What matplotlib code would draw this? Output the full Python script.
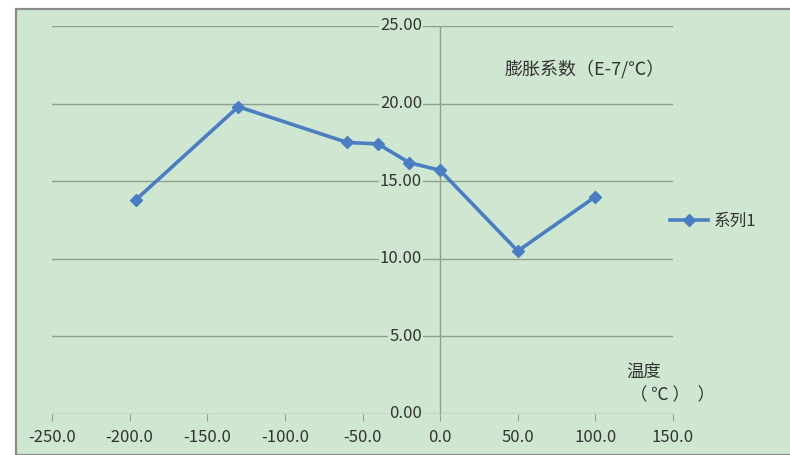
import matplotlib
matplotlib.use("Agg")
import matplotlib.pyplot as plt
from matplotlib.patches import Rectangle
from matplotlib.lines import Line2D

plt.rcParams['font.family'] = ['Noto Sans CJK SC', 'DejaVu Sans']

# Thermal expansion coefficient vs. temperature
temperature = [-196, -130, -60, -40, -20, 0, 50, 100]
expansion = [13.8, 19.8, 17.5, 17.4, 16.2, 15.7, 10.5, 14.0]
series_name = "系列1"
x_ticks = [-250, -200, -150, -100, -50, 0, 50, 100, 150]
y_ticks = [0, 5, 10, 15, 20, 25]

W, H = 790, 455
fig = plt.figure(figsize=(W / 100, H / 100), dpi=100)
fig.patch.set_facecolor("white")

bg = "#cfe7d1"
txt = "#333333"
grid_col = "#8f9f90"
# chart area frame
fig.patches.append(Rectangle((16 / W, 0), 1, 1 - 9 / H, transform=fig.transFigure,
                             facecolor=bg, edgecolor="#8c8c8c", linewidth=1.6, zorder=-10))

ax = fig.add_axes([52 / W, 1 - 414 / H, (673 - 52) / W, (414 - 26) / H])
ax.set_zorder(2)
ax.set_facecolor("none")
ax.set_xlim(-250, 150)
ax.set_ylim(0, 25)

line_col = "#4a7ec4"
ax.plot(temperature, expansion, color=line_col, linewidth=2.6, marker="D",
        markersize=6.5, markerfacecolor=line_col, markeredgecolor=line_col,
        clip_on=False, zorder=5)

# horizontal gridlines
for yv in y_ticks:
    ax.axhline(yv, color=grid_col, linewidth=1.0, zorder=1)

for s in ["top", "right", "left", "bottom"]:
    ax.spines[s].set_visible(False)
ax.axvline(0, color=grid_col, linewidth=1.0, zorder=1)
ax.set_xticks(x_ticks)
ax.set_xticklabels([f"{v:.1f}" for v in x_ticks], fontsize=12, color=txt)
ax.tick_params(axis="x", length=5, color=grid_col, pad=6)
ax.set_yticks([])

# y tick labels sitting just left of the vertical axis at x=0
for yv in y_ticks:
    ax.annotate(f"{yv:.2f}", xy=(0, yv), xytext=(-13, 0), textcoords="offset points",
                ha="right", va="center", fontsize=12, color=txt, zorder=3,
                bbox=dict(boxstyle="square,pad=0.05", facecolor=bg, edgecolor="none"))

ax.text((505 - 52) / 621, 0.89, "膨胀系数（E-7/℃）", transform=ax.transAxes,
        fontsize=13, color=txt, ha="left", va="center")
ax.text((626 - 52) / 621, (414 - 373) / 388, "温度", transform=ax.transAxes,
        fontsize=12.5, color=txt, ha="left", va="center")
ax.text((630 - 52) / 621, (414 - 395) / 388, "（ ℃ ）  ）", transform=ax.transAxes,
        fontsize=12.5, color=txt, ha="left", va="center")

handle = Line2D([], [], color=line_col, linewidth=2.6, marker="D",
                markersize=6, markerfacecolor=line_col, markeredgecolor=line_col)
fig.legend([handle], [series_name], loc="center left",
           bbox_to_anchor=(655 / W, 1 - 221 / H), frameon=False, fontsize=12,
           handlelength=2.3, handletextpad=0.3, labelcolor=txt)

fig.savefig("out.png", dpi=100)
